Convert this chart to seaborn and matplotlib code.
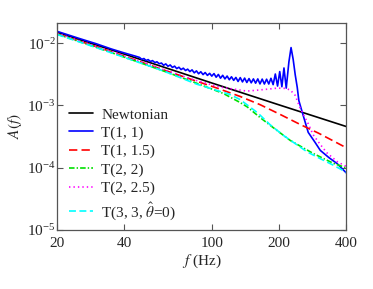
import numpy as np
import pandas as pd
import matplotlib
matplotlib.use("Agg")
import matplotlib.pyplot as plt
import seaborn as sns
from matplotlib.ticker import LogFormatterMathtext, FixedLocator, NullLocator, FixedFormatter

sns.set_style("ticks")
plt.rcParams['font.family'] = ['Liberation Serif', 'DejaVu Serif']
plt.rcParams['mathtext.fontset'] = 'stix'
plt.rcParams['lines.scale_dashes'] = False

# Newtonian
newt_f = [20, 40, 100, 200, 400]
newt_A = [1.5e-2, 6.7e-3, 2.28e-3, 1.02e-3, 4.6e-4]

# T(1, 1) -- oscillating, resonance near 226 Hz
t11_f = [20, 25, 30, 35, 40, 45,
         47.0, 48.1, 49.2, 50.3, 51.4, 52.6, 53.8, 55.1, 56.3, 57.6,
         59.0, 60.3, 61.7, 63.1, 64.6, 66.1, 67.6, 69.1, 70.7, 72.3,
         74.0, 75.7, 77.4, 79.2, 81.0, 82.9, 84.8, 86.7, 88.7, 90.8,
         92.8, 95.0, 97.2, 99.4, 101.7, 104.0, 106.4, 108.8, 111.3, 113.9,
         116.5, 119.2, 121.9, 124.7, 127.6, 130.5, 133.5, 136.6, 139.7, 142.9,
         146.2, 149.6, 153.0, 156.5, 160.1, 163.8, 167.6, 171.4, 175.4, 179.4,
         183.5, 187.7, 192, 196.5, 201, 205.5, 210, 215, 221, 226,
         231, 236, 241, 245, 254, 270, 290, 306, 335, 365, 400]
t11_A = [1.55e-2, 1.2e-2, 9.8e-3, 8.1e-3, 7.0e-3, 6.2e-3,
         5.91e-3, 5.51e-3, 5.67e-3, 5.28e-3, 5.45e-3, 5.09e-3, 5.25e-3, 4.88e-3, 5.03e-3, 4.68e-3,
         4.80e-3, 4.42e-3, 4.65e-3, 4.26e-3, 4.47e-3, 4.08e-3, 4.28e-3, 3.91e-3, 4.11e-3, 3.77e-3,
         3.97e-3, 3.64e-3, 3.83e-3, 3.50e-3, 3.73e-3, 3.34e-3, 3.59e-3, 3.23e-3, 3.48e-3, 3.13e-3,
         3.38e-3, 3.04e-3, 3.28e-3, 2.96e-3, 3.25e-3, 2.84e-3, 3.15e-3, 2.74e-3, 3.05e-3, 2.67e-3,
         2.97e-3, 2.59e-3, 2.89e-3, 2.53e-3, 2.82e-3, 2.43e-3, 2.80e-3, 2.39e-3, 2.75e-3, 2.34e-3,
         2.70e-3, 2.31e-3, 2.67e-3, 2.28e-3, 2.67e-3, 2.22e-3, 2.65e-3, 2.21e-3, 2.64e-3, 2.21e-3,
         2.73e-3, 2.16e-3, 3.2e-3, 2.05e-3, 3.5e-3, 2.0e-3, 4.0e-3, 1.9e-3, 5.0e-3, 8.5e-3,
         5.5e-3, 3.1e-3, 1.95e-3, 1.2e-3, 7.7e-4, 3.7e-4, 2.55e-4, 1.9e-4, 1.45e-4, 1.16e-4, 8.3e-5]

# T(1, 1.5)
t115_f = [20, 30, 40, 60, 88, 105, 133, 164, 200, 250, 300, 350, 400]
t115_A = [1.42e-2, 8.8e-3, 6.2e-3, 3.75e-3, 2.35e-3, 1.9e-3, 1.4e-3, 1.03e-3,
          7.3e-4, 4.9e-4, 3.6e-4, 2.7e-4, 2.1e-4]

# T(2, 2)
t22_f = [20, 30, 40, 60, 77, 112, 133, 143.5, 164, 188, 224, 284, 350, 400]
t22_A = [1.4e-2, 8.6e-3, 6.0e-3, 3.6e-3, 2.6e-3, 1.56e-3, 1.12e-3, 9.5e-4,
         6.4e-4, 4.4e-4, 2.75e-4, 1.7e-4, 1.18e-4, 1.0e-4]

# T(2, 2.5)
t225_f = [20, 30, 40, 60, 82, 108, 143, 170, 196, 215, 225, 236, 247, 261,
          270, 284, 305, 327, 365, 400]
t225_A = [1.44e-2, 8.9e-3, 6.3e-3, 3.8e-3, 2.6e-3, 1.98e-3, 1.7e-3, 1.8e-3,
          1.9e-3, 1.88e-3, 1.75e-3, 1.45e-3, 9.5e-4, 6.4e-4, 5.1e-4, 3.4e-4,
          2.4e-4, 1.75e-4, 1.25e-4, 1.05e-4]

# T(3, 3, theta=0)
t33_f = [20, 30, 40, 60, 85, 120, 133, 160, 182, 209, 267, 306, 350, 400]
t33_A = [1.38e-2, 8.5e-3, 5.95e-3, 3.6e-3, 2.2e-3, 1.5e-3, 1.25e-3, 7.6e-4,
         4.9e-4, 3.3e-4, 1.8e-4, 1.4e-4, 1.1e-4, 8.5e-5]

series = [
    ("Newtonian", newt_f, newt_A, "black", "-"),
    ("T(1, 1)", t11_f, t11_A, "#0000ff", "-"),
    ("T(1, 1.5)", t115_f, t115_A, "#ff0000", (0, (6, 3))),
    ("T(2, 2)", t22_f, t22_A, "#00e000", (0, (4, 1.5, 1, 1.5))),
    ("T(2, 2.5)", t225_f, t225_A, "#ff00ff", (0, (1, 2.2))),
    ("T(3, 3, $\\hat{\\theta}$=0)", t33_f, t33_A, "#00ffff", (0, (5, 2.5))),
]

fig = plt.figure(figsize=(3.73, 2.89), dpi=100)
ax = fig.add_axes([0.153, 0.204, 0.775, 0.716])

for name, f, A, c, ls in series:
    df = pd.DataFrame({"f": f, "A": A})
    sns.lineplot(data=df, x="f", y="A", ax=ax, color=c, linestyle=ls,
                 linewidth=1.2, label=name, estimator=None, sort=False)

ax.set_xscale("log")
ax.set_yscale("log")
ax.set_xlim(20, 400)
ax.set_ylim(1e-5, 2.1e-2)

ax.xaxis.set_major_locator(FixedLocator([20, 40, 100, 200, 400]))
ax.xaxis.set_major_formatter(FixedFormatter(["20", "40", "100", "200", "400"]))
ax.xaxis.set_minor_locator(NullLocator())
ax.yaxis.set_major_locator(FixedLocator([1e-5, 1e-4, 1e-3, 1e-2]))
ax.yaxis.set_major_formatter(LogFormatterMathtext())
ax.yaxis.set_minor_locator(NullLocator())

ax.tick_params(which="major", direction="in", top=True, right=True,
               length=4, width=0.8, color="#555555", labelsize=11)
ax.tick_params(axis="y", pad=1)
ax.tick_params(axis="x", pad=5)
for sp in ax.spines.values():
    sp.set_color("#555555")
    sp.set_linewidth(0.9)

ax.set_xlabel("$f$ (Hz)", fontsize=11, labelpad=2)
ax.set_ylabel("$A(f)$", fontsize=11, labelpad=2)

ax.legend(loc="upper left", bbox_to_anchor=(0.02, 0.62), frameon=False,
          fontsize=11, handlelength=1.6, handletextpad=0.5, labelspacing=0.3,
          borderaxespad=0)

fig.savefig("out.png", dpi=100)
